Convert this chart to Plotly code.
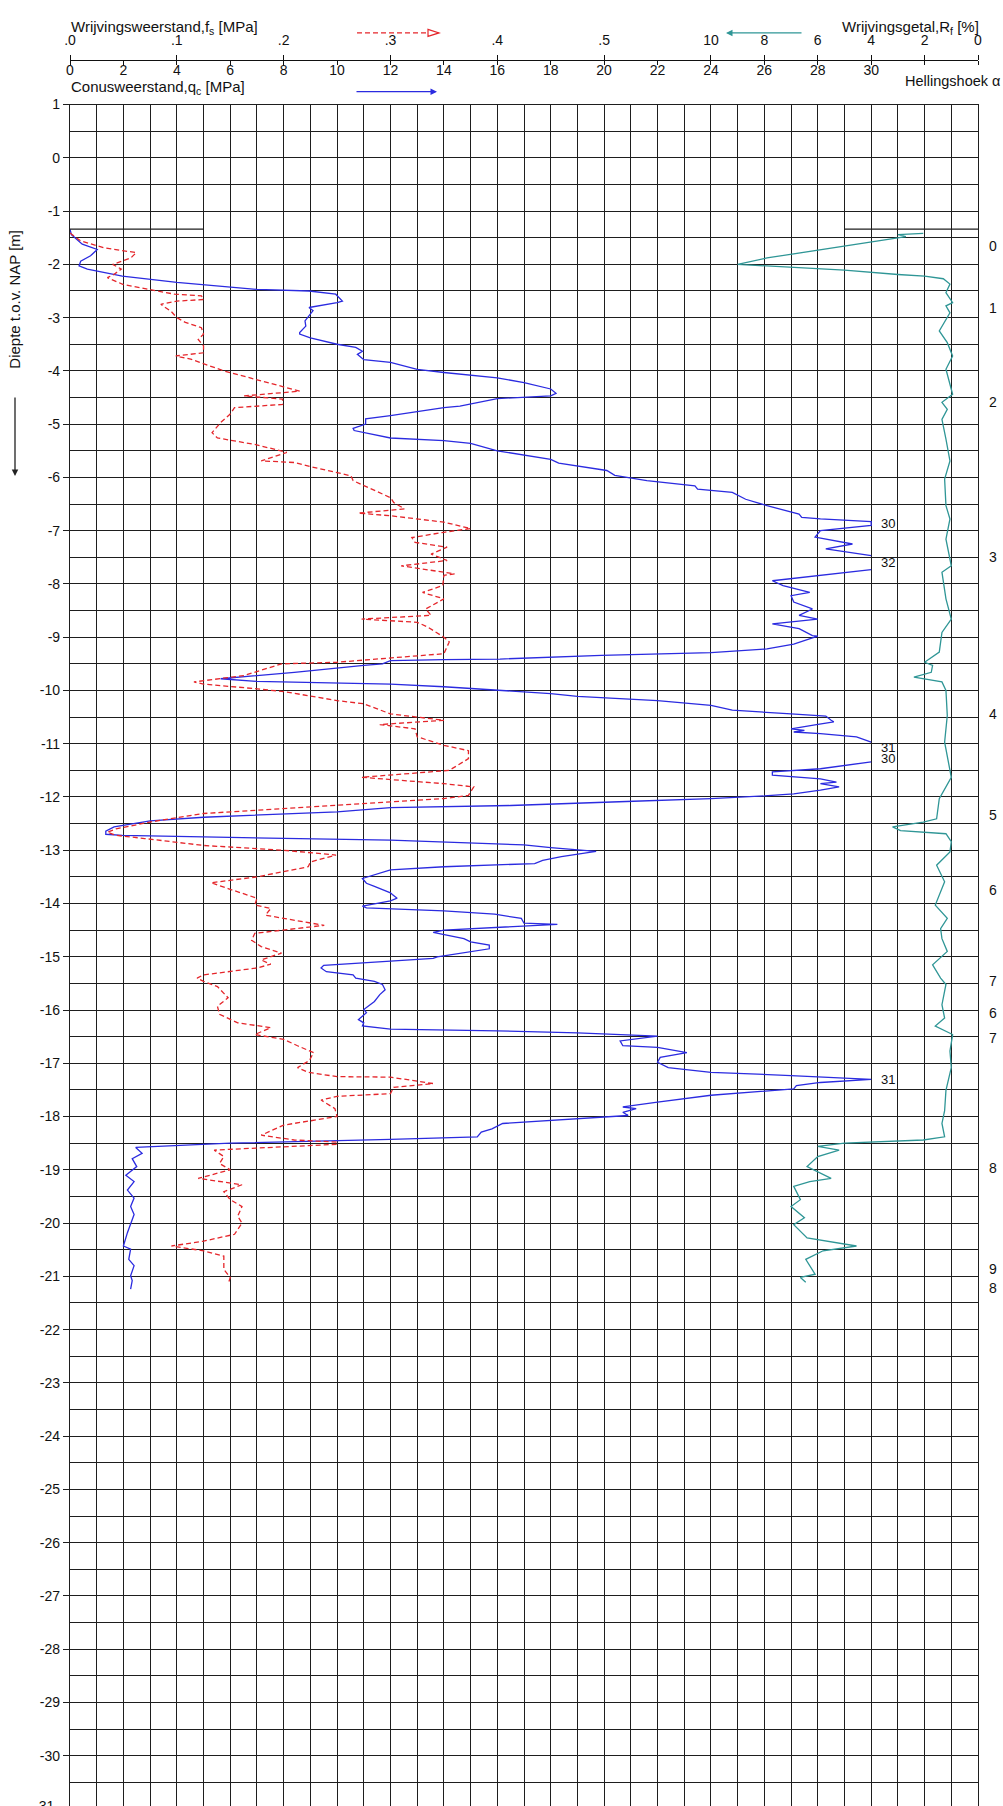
import numpy as np
import plotly.graph_objects as go

# ---------------- data ----------------
# Cone resistance qc [MPa] vs depth [m NAP]
qc_profile = [
    (-1.34, 0.0), (-1.44, 0.05), (-1.62, 0.46), (-1.72, 1.02), (-1.84, 0.77), (-1.94, 0.4),
    (-2.03, 0.34), (-2.09, 0.65), (-2.22, 1.96), (-2.34, 4.0), (-2.47, 7.0), (-2.50, 8.95),
    (-2.56, 9.95), (-2.69, 10.2), (-2.72, 10.0), (-2.81, 8.95), (-2.87, 9.1), (-2.94, 9.0),
    (-3.06, 8.8), (-3.16, 8.83), (-3.28, 8.6), (-3.31, 8.6), (-3.38, 9.0), (-3.50, 10.0),
    (-3.56, 10.7), (-3.63, 10.95), (-3.69, 10.76), (-3.79, 11.0), (-3.84, 12.0), (-3.97, 13.0),
    (-4.03, 14.0), (-4.13, 16.0), (-4.22, 17.0), (-4.34, 18.0), (-4.42, 18.2), (-4.47, 18.0),
    (-4.52, 16.0), (-4.66, 14.6), (-4.69, 14.0), (-4.84, 12.0), (-4.90, 11.07), (-5.00, 11.07),
    (-5.08, 10.6), (-5.12, 10.64), (-5.26, 12.0), (-5.31, 14.0), (-5.36, 15.0), (-5.50, 16.0),
    (-5.66, 18.0), (-5.73, 18.3), (-5.87, 20.1), (-5.96, 20.4), (-6.06, 21.6), (-6.16, 23.4),
    (-6.22, 23.5), (-6.28, 24.8), (-6.41, 25.3), (-6.53, 26.1), (-6.69, 27.3), (-6.75, 27.4),
    (-6.78, 28.1), (-6.83, 30.0), (-6.90, 30.0), (-7.00, 28.1), (-7.12, 27.9), (-7.25, 29.3),
    (-7.34, 28.3), (-7.47, 30.0), (-7.60, 32.0), (-7.73, 30.0), (-7.94, 26.3), (-8.03, 26.7),
    (-8.16, 27.7), (-8.22, 27.0), (-8.34, 27.1), (-8.47, 27.8), (-8.59, 27.3), (-8.66, 28.0),
    (-8.75, 26.3), (-8.84, 27.3), (-8.97, 27.8), (-8.98, 28.0), (-9.13, 27.1), (-9.22, 26.1),
    (-9.29, 24.0), (-9.34, 19.9), (-9.41, 16.1), (-9.42, 14.0), (-9.44, 12.0), (-9.50, 11.7),
    (-9.53, 11.0), (-9.66, 8.4), (-9.78, 5.64), (-9.83, 7.0), (-9.88, 12.0), (-9.93, 14.0),
    (-9.99, 15.9), (-10.06, 18.0), (-10.11, 19.0), (-10.19, 22.0), (-10.28, 24.0), (-10.37, 24.8),
    (-10.44, 27.0), (-10.48, 28.3), (-10.56, 28.5), (-10.59, 28.6), (-10.64, 27.95), (-10.72, 27.0),
    (-10.75, 27.5), (-10.78, 27.1), (-10.81, 28.1), (-10.87, 29.45), (-10.97, 30.0), (-11.10, 31.0),
    (-11.25, 30.5), (-11.34, 30.0), (-11.40, 29.2), (-11.47, 28.1), (-11.53, 26.3), (-11.59, 26.3),
    (-11.66, 28.1), (-11.72, 28.7), (-11.75, 28.1), (-11.81, 28.8), (-11.87, 28.1), (-11.94, 27.1),
    (-11.98, 26.0), (-12.03, 24.0), (-12.08, 21.1), (-12.16, 16.5), (-12.20, 12.0), (-12.28, 10.0),
    (-12.38, 5.0), (-12.45, 3.0), (-12.56, 1.65), (-12.64, 1.34), (-12.70, 1.34), (-12.72, 1.96),
    (-12.75, 5.0), (-12.81, 12.0), (-12.90, 17.0), (-12.95, 18.0), (-13.02, 19.7), (-13.12, 18.4),
    (-13.19, 17.7), (-13.25, 17.4), (-13.31, 14.0), (-13.37, 12.0), (-13.53, 10.95), (-13.62, 11.1),
    (-13.68, 11.4), (-13.80, 12.0), (-13.83, 12.07), (-13.90, 12.25), (-13.95, 12.0), (-14.05, 10.95),
    (-14.08, 11.1), (-14.14, 14.0), (-14.20, 15.9), (-14.28, 16.9), (-14.37, 17.0), (-14.39, 18.25),
    (-14.50, 14.0), (-14.54, 13.6), (-14.66, 14.75), (-14.72, 15.0), (-14.78, 15.7), (-14.85, 15.7),
    (-15.00, 13.75), (-15.03, 13.6), (-15.08, 12.0), (-15.16, 9.5), (-15.21, 9.4), (-15.28, 9.6),
    (-15.34, 10.6), (-15.40, 10.7), (-15.46, 11.4), (-15.52, 11.7), (-15.62, 11.8), (-15.71, 11.6),
    (-15.84, 11.4), (-15.90, 11.25), (-15.99, 11.0), (-16.05, 11.1), (-16.18, 10.8), (-16.24, 11.0),
    (-16.30, 10.95), (-16.36, 12.0), (-16.39, 16.0), (-16.43, 19.0), (-16.49, 22.0), (-16.58, 20.6),
    (-16.67, 20.7), (-16.70, 22.0), (-16.75, 22.6), (-16.80, 23.1), (-16.89, 22.1), (-16.98, 22.0),
    (-17.08, 22.4), (-17.17, 24.0), (-17.23, 27.0), (-17.30, 30.0), (-17.36, 28.1), (-17.42, 27.2),
    (-17.48, 27.1), (-17.60, 24.0), (-17.73, 22.0), (-17.79, 21.1), (-17.82, 20.7), (-17.85, 21.2),
    (-17.92, 20.7), (-17.98, 20.9), (-18.04, 19.0), (-18.13, 16.2), (-18.23, 15.8), (-18.29, 15.4),
    (-18.38, 15.25), (-18.43, 12.0), (-18.50, 6.0), (-18.57, 2.77), (-18.58, 2.46), (-18.69, 2.7),
    (-18.79, 2.33), (-18.94, 2.5), (-19.10, 2.09), (-19.22, 2.4), (-19.38, 2.15), (-19.53, 2.4),
    (-19.69, 2.27), (-19.84, 2.4), (-20.00, 2.27), (-20.18, 2.15), (-20.43, 2.0), (-20.49, 2.27),
    (-20.68, 2.2), (-20.80, 2.4), (-20.99, 2.27), (-21.08, 2.33), (-21.24, 2.27),
]

# Sleeve friction fs [MPa] vs depth
fs_profile = [
    (-1.41, 0.000), (-1.56, 0.010), (-1.69, 0.032), (-1.78, 0.062), (-1.88, 0.057), (-2.00, 0.040),
    (-2.09, 0.048), (-2.19, 0.041), (-2.25, 0.035), (-2.38, 0.050), (-2.47, 0.074), (-2.56, 0.098),
    (-2.59, 0.123), (-2.66, 0.125), (-2.69, 0.100), (-2.75, 0.085), (-2.89, 0.095), (-3.00, 0.100),
    (-3.09, 0.108), (-3.19, 0.123), (-3.31, 0.125), (-3.41, 0.120), (-3.53, 0.125), (-3.66, 0.125),
    (-3.72, 0.099), (-3.78, 0.113), (-4.00, 0.144), (-4.19, 0.179), (-4.38, 0.215), (-4.41, 0.198),
    (-4.47, 0.163), (-4.53, 0.199), (-4.63, 0.199), (-4.69, 0.154), (-4.81, 0.150), (-4.97, 0.141),
    (-5.16, 0.133), (-5.26, 0.138), (-5.38, 0.173), (-5.53, 0.203), (-5.69, 0.179), (-5.72, 0.210),
    (-5.81, 0.228), (-5.97, 0.263), (-6.06, 0.265), (-6.38, 0.300), (-6.47, 0.303), (-6.59, 0.313),
    (-6.67, 0.270), (-6.72, 0.300), (-6.84, 0.350), (-6.96, 0.375), (-7.03, 0.350), (-7.13, 0.320),
    (-7.22, 0.323), (-7.31, 0.353), (-7.44, 0.338), (-7.56, 0.353), (-7.66, 0.310), (-7.81, 0.360),
    (-7.84, 0.350), (-8.03, 0.349), (-8.16, 0.330), (-8.28, 0.350), (-8.47, 0.333), (-8.59, 0.338),
    (-8.66, 0.273), (-8.72, 0.325), (-8.81, 0.335), (-9.00, 0.350), (-9.09, 0.355), (-9.31, 0.350),
    (-9.39, 0.300), (-9.47, 0.250), (-9.50, 0.198), (-9.72, 0.163), (-9.84, 0.116), (-9.88, 0.125),
    (-9.97, 0.175), (-10.02, 0.200), (-10.19, 0.250), (-10.25, 0.275), (-10.44, 0.300), (-10.56, 0.350),
    (-10.64, 0.290), (-10.72, 0.323), (-10.87, 0.325), (-11.03, 0.350), (-11.13, 0.373), (-11.28, 0.373),
    (-11.44, 0.360), (-11.50, 0.355), (-11.63, 0.273), (-11.75, 0.350), (-11.81, 0.378), (-11.97, 0.373),
    (-12.03, 0.350), (-12.16, 0.250), (-12.31, 0.125), (-12.47, 0.075), (-12.60, 0.043), (-12.66, 0.035),
    (-12.72, 0.043), (-12.78, 0.070), (-12.91, 0.125), (-13.00, 0.200), (-13.09, 0.249), (-13.22, 0.225),
    (-13.31, 0.223), (-13.50, 0.175), (-13.61, 0.132), (-13.72, 0.148), (-13.90, 0.175), (-14.03, 0.173),
    (-14.09, 0.188), (-14.22, 0.183), (-14.31, 0.210), (-14.41, 0.238), (-14.56, 0.173), (-14.69, 0.170),
    (-14.81, 0.179), (-14.93, 0.198), (-15.06, 0.179), (-15.14, 0.188), (-15.21, 0.175), (-15.28, 0.148),
    (-15.34, 0.125), (-15.40, 0.119), (-15.46, 0.125), (-15.56, 0.138), (-15.77, 0.148), (-15.93, 0.138),
    (-16.08, 0.140), (-16.24, 0.157), (-16.33, 0.188), (-16.46, 0.173), (-16.55, 0.200), (-16.67, 0.213),
    (-16.80, 0.228), (-16.95, 0.224), (-17.08, 0.213), (-17.17, 0.223), (-17.25, 0.250), (-17.26, 0.300),
    (-17.38, 0.340), (-17.45, 0.303), (-17.57, 0.300), (-17.62, 0.250), (-17.69, 0.235), (-17.85, 0.248),
    (-18.00, 0.250), (-18.16, 0.200), (-18.35, 0.179), (-18.44, 0.210), (-18.48, 0.250), (-18.52, 0.250),
    (-18.58, 0.179), (-18.63, 0.135), (-18.75, 0.144), (-18.88, 0.140), (-19.00, 0.150), (-19.16, 0.120),
    (-19.28, 0.161), (-19.41, 0.144), (-19.56, 0.150), (-19.69, 0.161), (-19.87, 0.157), (-20.00, 0.161),
    (-20.21, 0.154), (-20.34, 0.125), (-20.43, 0.095), (-20.52, 0.125), (-20.62, 0.144), (-20.87, 0.144),
    (-21.02, 0.150), (-21.15, 0.148),
]

# Friction ratio Rf [%] vs depth
rf_profile = [
    (-1.42, 2.05), (-1.44, 3.0), (-1.48, 2.7), (-1.58, 4.0), (-1.72, 6.0), (-1.81, 7.0), (-1.88, 7.9),
    (-2.00, 9.0), (-2.06, 7.0), (-2.11, 5.0), (-2.19, 3.0), (-2.22, 2.0), (-2.27, 1.3), (-2.37, 1.05),
    (-2.53, 1.2), (-2.72, 0.95), (-2.78, 1.2), (-2.91, 1.05), (-3.25, 1.45), (-3.47, 1.15), (-3.72, 0.95),
    (-3.97, 1.2), (-4.44, 0.95), (-4.59, 1.35), (-4.72, 1.15), (-4.91, 1.35), (-5.28, 1.2), (-5.69, 1.05),
    (-6.03, 1.25), (-6.53, 1.2), (-6.78, 1.05), (-7.16, 1.2), (-7.66, 1.0), (-7.78, 1.35), (-8.28, 1.2),
    (-8.66, 1.0), (-8.91, 1.35), (-9.28, 1.45), (-9.47, 2.0), (-9.53, 1.7), (-9.66, 1.75), (-9.75, 2.4),
    (-9.84, 1.35), (-10.00, 1.2), (-10.47, 1.15), (-10.97, 1.25), (-11.63, 1.0), (-12.03, 1.45),
    (-12.41, 1.55), (-12.47, 2.05), (-12.56, 3.2), (-12.63, 2.9), (-12.69, 1.2), (-12.84, 1.0),
    (-13.03, 1.05), (-13.28, 1.55), (-13.59, 1.25), (-14.03, 1.6), (-14.28, 1.15), (-14.47, 1.4),
    (-14.66, 1.35), (-14.90, 1.15), (-15.15, 1.7), (-15.40, 1.4), (-15.52, 1.2), (-15.90, 1.35),
    (-16.15, 1.25), (-16.30, 1.6), (-16.46, 0.95), (-16.77, 1.05), (-17.08, 1.0), (-17.51, 1.2),
    (-17.89, 1.25), (-18.13, 1.35), (-18.38, 1.25), (-18.44, 2.05), (-18.50, 5.0), (-18.56, 6.0),
    (-18.63, 5.2), (-18.75, 6.0), (-18.94, 6.4), (-19.16, 5.5), (-19.22, 6.3), (-19.31, 6.9),
    (-19.56, 6.65), (-19.69, 7.0), (-19.90, 6.5), (-20.03, 6.9), (-20.28, 6.4), (-20.43, 4.55),
    (-20.52, 5.8), (-20.68, 6.45), (-20.96, 6.1), (-21.02, 6.65), (-21.11, 6.45),
]

# qc values printed where the cone resistance leaves the 30 MPa scale
qc_over_depth = [-6.87, -7.60, -11.07, -11.27, -17.30]
qc_over_text = ["30", "32", "31", "30", "31"]

# Hellingshoek (inclination) readings on the right
incl_depth = [-1.66, -2.81, -4.59, -7.50, -10.44, -12.34, -13.75, -15.46, -16.05, -16.52, -18.97, -20.87, -21.21]
incl_value = [0, 1, 2, 3, 4, 5, 6, 7, 6, 7, 8, 9, 8]

start_depth = -1.34
qc_max_scale = 30.0
qc_axis_max = 34.0
fs_per_qc = 1 / 40.0

fs_tick_vals = [0.0, 0.1, 0.2, 0.3, 0.4, 0.5]
fs_tick_text = [".0", ".1", ".2", ".3", ".4", ".5"]
qc_tick_vals = list(range(0, 35, 2))
qc_tick_text = [str(v) if v <= 30 else "" for v in qc_tick_vals]
rf_tick_vals = [10, 8, 6, 4, 2, 0]
depth_ticks = list(range(-31, 2))

# ---------------- layout geometry ----------------
W, H = 1003, 1806
ML, MR = 70, 25
PLOT_TOP = 97
HEADER_Y = 52
PX_PER_M = 53.5
PW = W - ML - MR


def fx(px):
    return (px - ML) / PW


def fy(py):
    return 1 - py / H


depth_bottom = 1.0 - (H - PLOT_TOP) / PX_PER_M

FONT = "Arial, Liberation Sans, sans-serif"
GRID = "#1e1e1e"
BLUE = "#2b2be0"
RED = "#e5262b"
TEAL = "#2f9696"
TXT = "#111"

qc_depth, qc_val = zip(*qc_profile)
qc_plot = [v if v <= qc_max_scale else None for v in qc_val]
fs_depth, fs_val = zip(*fs_profile)
rf_depth, rf_val = zip(*rf_profile)

fig = go.Figure()
fig.add_trace(go.Scatter(x=qc_plot, y=qc_depth, xaxis="x", yaxis="y", mode="lines",
                         line=dict(color=BLUE, width=1.3), connectgaps=False, hoverinfo="skip"))
fig.add_trace(go.Scatter(x=fs_val, y=fs_depth, xaxis="x2", yaxis="y", mode="lines",
                         line=dict(color=RED, width=1.3, dash="5px,3px"), hoverinfo="skip"))
fig.add_trace(go.Scatter(x=rf_val, y=rf_depth, xaxis="x3", yaxis="y", mode="lines",
                         line=dict(color=TEAL, width=1.3), hoverinfo="skip"))
# carrier so that the qc label axis (x4) is drawn
fig.add_trace(go.Scatter(x=[None], y=[None], xaxis="x4", yaxis="y", mode="lines",
                         hoverinfo="skip", showlegend=False))

header_pos = fy(HEADER_Y)
tickfont = dict(family=FONT, size=14, color=TXT)
titlefont = dict(family=FONT, size=15, color=TXT)

fig.update_layout(
    width=W, height=H,
    margin=dict(l=ML, r=MR, t=0, b=0, pad=0),
    paper_bgcolor="white", plot_bgcolor="white",
    showlegend=False,
    font=dict(family=FONT, size=14, color=TXT),
    xaxis=dict(domain=[0, 1], anchor="y", range=[0, qc_axis_max], tick0=0, dtick=1,
               showgrid=True, gridcolor=GRID, gridwidth=1.2, showticklabels=False, ticks="",
               showline=True, linecolor=GRID, linewidth=1.2, mirror=True, zeroline=False),
    xaxis2=dict(overlaying="x", anchor="free", position=header_pos, side="top",
                range=[0, qc_axis_max * fs_per_qc], tickmode="array", tickvals=fs_tick_vals,
                ticktext=fs_tick_text, ticks="outside", ticklen=5, tickcolor=TXT, tickwidth=1.2,
                ticklabelstandoff=4,
                showgrid=False, showline=False, zeroline=False, tickfont=tickfont),
    xaxis3=dict(overlaying="x", anchor="free", position=header_pos, side="top",
                range=[qc_axis_max, 0], tickmode="array", tickvals=rf_tick_vals,
                ticktext=[str(v) for v in rf_tick_vals], ticks="outside", ticklen=5,
                ticklabelstandoff=4,
                tickcolor=TXT, tickwidth=1.2, showgrid=False, showline=False,
                zeroline=False, tickfont=tickfont),
    xaxis4=dict(overlaying="x", anchor="free", position=header_pos, side="bottom",
                range=[0, qc_axis_max], tickmode="array", tickvals=qc_tick_vals,
                ticktext=qc_tick_text, ticks="outside", ticklen=4, tickcolor=TXT, tickwidth=1.2,
                ticklabelstandoff=-7,
                showgrid=False, showline=True, linecolor=TXT, linewidth=1.2,
                zeroline=False, tickfont=tickfont),
    yaxis=dict(domain=[0, fy(PLOT_TOP)], anchor="x", range=[depth_bottom, 1.0],
               tickmode="array", tickvals=depth_ticks, ticktext=[str(v) for v in depth_ticks],
               ticks="outside", ticklen=6, tickcolor=GRID, tickwidth=1.2,
               showgrid=True, gridcolor=GRID, gridwidth=1.2,
               minor=dict(tickmode="array", tickvals=[v + 0.5 for v in depth_ticks],
                          showgrid=True, gridcolor=GRID, gridwidth=1.2, ticks=""),
               showline=True, linecolor=GRID, linewidth=1.2, mirror=True, zeroline=False,
               tickfont=tickfont),
)

ann = []
# header titles
ann.append(dict(text="Wrijvingsweerstand,f<sub>s</sub> [MPa]", xref="paper", yref="paper",
                x=fx(69), y=fy(20), xanchor="left", yanchor="middle", showarrow=False,
                font=titlefont))
ann.append(dict(text="Conusweerstand,q<sub>c</sub> [MPa]", xref="paper", yref="paper",
                x=fx(69), y=fy(80), xanchor="left", yanchor="middle", showarrow=False,
                font=titlefont))
ann.append(dict(text="Wrijvingsgetal,R<sub>f</sub> [%]", xref="paper", yref="paper",
                x=fx(981), y=fy(20), xanchor="right", yanchor="middle", showarrow=False,
                font=titlefont))
ann.append(dict(text="Hellingshoek α", xref="paper", yref="paper",
                x=fx(1002), y=fy(73), xanchor="right", yanchor="middle", showarrow=False,
                font=dict(family=FONT, size=14.5, color=TXT)))
# header arrows
ann.append(dict(text="", xref="paper", yref="paper", x=fx(437), y=fy(84), ax=-82, ay=0,
                showarrow=True, arrowhead=2, arrowsize=1, arrowwidth=1.3, arrowcolor=BLUE))
ann.append(dict(text="", xref="paper", yref="paper", x=fx(726), y=fy(25), ax=77, ay=0,
                showarrow=True, arrowhead=2, arrowsize=1, arrowwidth=1.3, arrowcolor=TEAL))
# y axis title and arrow
ann.append(dict(text="Diepte t.o.v. NAP [m]", xref="paper", yref="paper", x=fx(15), y=fy(293),
                xanchor="center", yanchor="middle", textangle=-90, showarrow=False,
                font=titlefont))
ann.append(dict(text="", xref="paper", yref="paper", x=fx(15), y=fy(470), ax=0, ay=-80,
                showarrow=True, arrowhead=2, arrowsize=1, arrowwidth=1.3, arrowcolor="#222"))
ann.append(dict(text="-31", xref="paper", yref="paper", x=fx(56), y=fy(1806), xanchor="right",
                yanchor="middle", showarrow=False, font=tickfont))
# off-scale qc values
for d, t in zip(qc_over_depth, qc_over_text):
    ann.append(dict(text=t, xref="x", yref="y", x=qc_max_scale + 0.3, y=d, xanchor="left",
                    yanchor="middle", showarrow=False, font=dict(family=FONT, size=13, color=TXT)))
# inclination readings
for d, v in zip(incl_depth, incl_value):
    ann.append(dict(text=str(v), xref="paper", yref="y", x=fx(993), y=d, xanchor="center",
                    yanchor="middle", showarrow=False, font=tickfont))
fig.update_layout(annotations=ann)

shapes = [
    # start-of-sounding markers
    dict(type="line", xref="x", yref="y", x0=0, x1=5, y0=start_depth, y1=start_depth,
         line=dict(color=GRID, width=1.2)),
    dict(type="line", xref="x", yref="y", x0=29, x1=qc_axis_max, y0=start_depth, y1=start_depth,
         line=dict(color=GRID, width=1.2)),
    # red dashed legend arrow
    dict(type="line", xref="paper", yref="paper", x0=fx(357), x1=fx(428), y0=fy(25), y1=fy(25),
         line=dict(color=RED, width=1.3, dash="5px,3px")),
    dict(type="path", xref="paper", yref="paper",
         path=f"M {fx(428)} {fy(21.5)} L {fx(439)} {fy(25)} L {fx(428)} {fy(28.5)} Z",
         line=dict(color=RED, width=1.2), fillcolor="white"),
]
fig.update_layout(shapes=shapes)

fig.write_html("out.html", config={"displayModeBar": False},
               post_script="document.body.style.margin='0';document.body.style.overflow='hidden';")
